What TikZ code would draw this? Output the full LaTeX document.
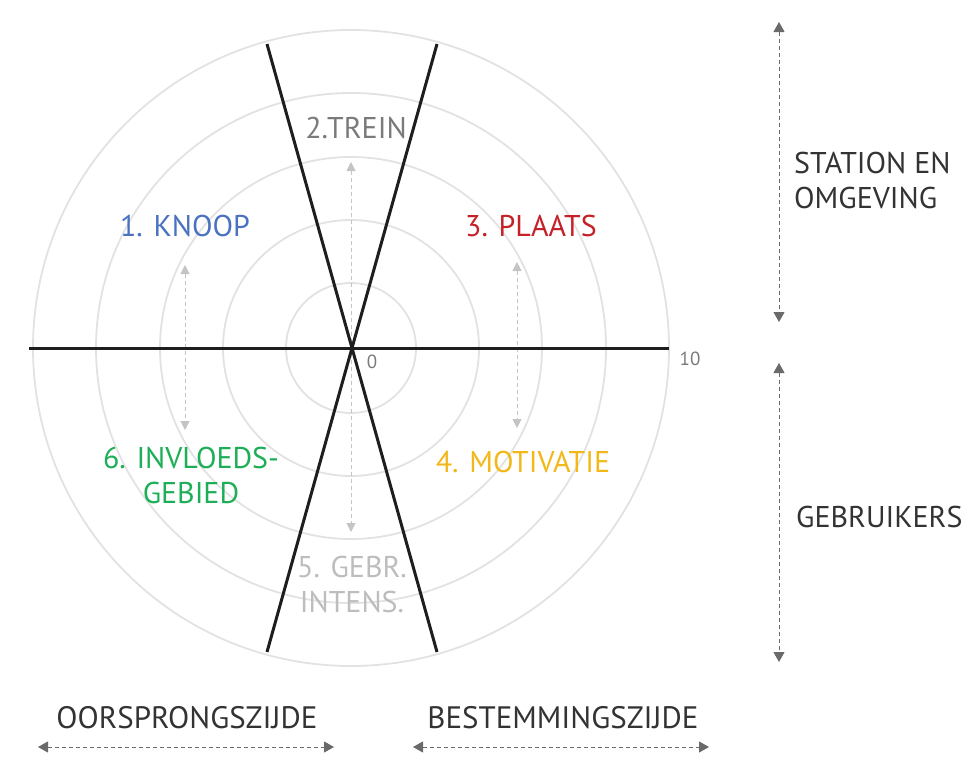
\documentclass[tikz,border=0pt]{standalone}
\usepackage{fontspec}
\setmainfont{PT Sans}
\usetikzlibrary{arrows.meta}
\definecolor{ringc}{HTML}{E2E2E2}
\definecolor{axisc}{HTML}{1E1E1E}
\definecolor{darkarr}{HTML}{6A6A6A}
\definecolor{lightarr}{HTML}{C4C4C4}
\definecolor{knoopc}{HTML}{4A72C0}
\definecolor{treinc}{HTML}{7A7A7A}
\definecolor{plaatsc}{HTML}{C42128}
\definecolor{motivc}{HTML}{F2B81A}
\definecolor{gebrc}{HTML}{BDBDBD}
\definecolor{invlc}{HTML}{1DAE57}
\definecolor{textc}{HTML}{333333}
\tikzset{
  ring/.style={draw=ringc, line width=1.8pt},
  axisline/.style={draw=axisc, line width=3pt},
  sectorlabel/.style={font=\fontsize{30}{35}\selectfont, inner sep=0pt, align=center},
  sidelabel/.style={font=\fontsize{30}{35}\selectfont, text=textc, inner sep=0pt, align=left},
  bottomlabel/.style={font=\fontsize{31}{35}\selectfont, text=textc, inner sep=0pt},
  scalelabel/.style={font=\fontsize{19}{22}\selectfont, text=treinc, inner sep=0pt},
  innerarrow/.style={draw=lightarr, line width=1pt, dash pattern=on 4pt off 3pt,
     {Triangle[width=9pt,length=9pt,fill=lightarr]}-{Triangle[width=9pt,length=9pt,fill=lightarr]}},
  outerarrow/.style={draw=darkarr, line width=1pt, dash pattern=on 4pt off 3pt,
     {Triangle[width=11pt,length=10pt,fill=darkarr]}-{Triangle[width=11pt,length=10pt,fill=darkarr]}}
}
\begin{document}
\begin{tikzpicture}[x=1pt,y=-1pt]
\useasboundingbox (0,0) rectangle (978,764);
\coordinate (c) at (351,348);
% rings
\foreach \r in {65,128,191,255,318}{
  \draw[ring] (c) circle (\r);
}
% inner dashed arrows
\coordinate (ka) at (185,265);
\coordinate (kb) at (185,430);
\coordinate (ta) at (351,162);
\coordinate (tb) at (351,532);
\coordinate (pa) at (517,262);
\coordinate (pb) at (517,428);
\draw[innerarrow] (ka) -- (kb);
\draw[innerarrow] (ta) -- (tb);
\draw[innerarrow] (pa) -- (pb);
% axes
\coordinate (hl) at (29,348);
\coordinate (hr) at (669,348);
\coordinate (d1a) at (267,44);
\coordinate (d1b) at (437,652);
\coordinate (d2a) at (437,44);
\coordinate (d2b) at (267,652);
\draw[axisline] (hl) -- (hr);
\draw[axisline] (d1a) -- (d1b);
\draw[axisline] (d2a) -- (d2b);
% scale labels
\node[scalelabel] (zero) at (372,362) {0};
\node[scalelabel] (ten) at (690,359) {10};
% sector labels
\node[sectorlabel, text=knoopc] (knoop) at (185,226) {1. KNOOP};
\node[sectorlabel, text=treinc] (trein) at (356,128) {2.TREIN};
\node[sectorlabel, text=plaatsc] (plaats) at (531,226) {3. PLAATS};
\node[sectorlabel, text=motivc] (motiv) at (523,462) {4. MOTIVATIE};
\node[sectorlabel, text=gebrc] (gebr) at (352,584) {5. GEBR.\\INTENS.};
\node[sectorlabel, text=invlc] (invl) at (191,475) {6. INVLOEDS-\\GEBIED};
% right side
\coordinate (sa) at (779,22);
\coordinate (sb) at (779,322);
\coordinate (ga) at (779,363);
\coordinate (gb) at (779,662);
\draw[outerarrow] (sa) -- (sb);
\draw[outerarrow] (ga) -- (gb);
\node[sidelabel, anchor=west] (station) at (794,180) {STATION EN\\OMGEVING};
\node[sidelabel, anchor=west] (gebruikers) at (796,517) {GEBRUIKERS};
% bottom
\node[bottomlabel] (oorsprong) at (187,718) {OORSPRONGSZIJDE};
\node[bottomlabel] (bestem) at (563,718) {BESTEMMINGSZIJDE};
\coordinate (oa) at (38,747);
\coordinate (ob) at (334,747);
\coordinate (ba) at (413,747);
\coordinate (bb) at (709,747);
\draw[outerarrow] (oa) -- (ob);
\draw[outerarrow] (ba) -- (bb);
\end{tikzpicture}
\end{document}
